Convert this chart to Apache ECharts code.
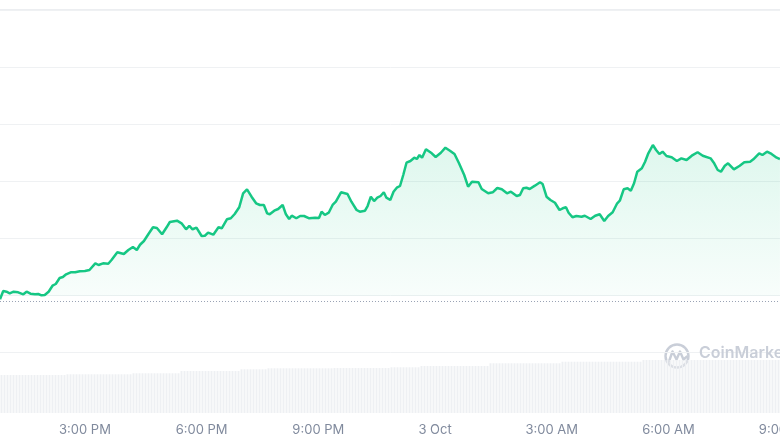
<!DOCTYPE html>
<html>
<head>
<meta charset="utf-8">
<script src="https://cdn.jsdelivr.net/npm/echarts@6/dist/echarts.min.js"></script>
<style>
html,body{margin:0;padding:0;background:#fff;}
#chart{width:780px;height:437px;}
</style>
</head>
<body>
<div id="chart"></div>
<script>
// minutes since 12:00 PM, 2 Oct
const times = [49,54,59,64,70,77,85,90,96,103,108,113,118,124,130,135,141,146,151,158,165,172,180,187,196,201,208,216,221,230,240,247,254,260,265,271,278,285,291,299,306,311,322,329,336,341,346,352,360,365,370,378,386,391,399,405,411,418,424,430,437,444,450,
456,461,465,472,478,485,490,495,499,506,512,518,526,535,541,545,550,556,562,567,575,585,591,599,604,612,616,621,626,631,636,641,645,651,656,661,666,671,676,682,688,692,696,700,706,715,721,729,736,743,750,757,765,771,777,787,792,802,809,816,823,831,837,846,851,
856,861,866,874,882,886,892,898,905,912,917,922,926,932,938,946,951,960,967,974,981,987,994,1001,1005,1011,1017,1022,1027,1032,1039,1044,1049,1056,1061,1066,1071,1077,1085,1093,1100,1108,1116,1125,1133,1145,1150,1156,1161,1167,1172,1181,1190,1197,1206,1211,1220,1225,1232,1239,1247,1252];
const prices = [9.25,10.70,10.58,10.30,10.58,10.47,10.12,10.58,10.23,10.12,10.18,9.95,10.0,10.58,11.63,11.93,12.98,13.16,13.63,13.98,13.98,14.16,14.21,14.39,15.56,15.26,15.56,15.49,16.14,17.49,17.19,17.89,18.42,17.89,18.82,19.47,20.70,21.88,21.75,20.65,21.88,22.81,23.04,22.58,21.53,22.11,21.53,21.81,20.35,20.40,20.93,20.58,21.88,21.70,23.28,23.46,24.21,25.39,27.84,28.54,27.25,26.09,25.79,
25.79,24.33,24.16,24.79,25.09,25.79,24.16,23.33,23.91,23.46,23.86,23.86,23.46,23.56,23.51,24.61,24.04,24.44,25.79,26.37,28.02,27.72,26.37,24.91,24.61,24.79,25.61,27.25,26.49,27.07,27.37,28.02,27.07,26.67,28.12,28.82,29.12,31.05,33.21,33.51,34.09,33.86,34.56,34.09,35.56,34.86,34.21,34.96,35.84,35.32,34.74,33.11,31.05,29.0,29.88,29.77,28.60,27.84,28.02,28.77,28.54,27.84,28.12,27.37,27.54,
28.72,28.82,28.60,29.18,29.77,29.47,27.25,26.67,26.19,24.91,25.21,25.39,24.44,23.63,23.86,23.74,23.91,23.33,23.91,24.16,22.98,23.86,24.51,26.09,26.54,28.54,28.72,28.30,29.60,31.63,32.23,33.39,34.86,36.32,35.44,34.74,35.14,34.39,34.16,33.51,33.98,33.68,34.44,35.04,34.44,33.98,33.21,31.93,31.63,32.68,33.11,32.05,32.68,33.28,33.39,33.81,34.86,34.56,35.14,34.74,34.09,33.86];
const openPrice = 8.95;
// volume as runs: [number of bars, value]
const volumeRuns = [[22,38],[22,38.7],[16,39.7],[20,42],[9,43.7],[22,44.7],[19,45],[10,45.7],[23,47],[24,49.7],[27,51.3],[46,53]];
const tickValues = [180,360,540,720,900,1080,1260];
const tickLabels = ['3:00 PM','6:00 PM','9:00 PM','3 Oct','3:00 AM','6:00 AM','9:00 AM'];

const volume = [];
volumeRuns.forEach(([n, v]) => { for (let i = 0; i < n; i++) volume.push(v); });
const volIdx = volume.map((_, i) => i);
const lineData = times.map((t, i) => [t, prices[i]]);

const chart = echarts.init(document.getElementById('chart'), null, {renderer: 'canvas'});
chart.setOption({
  animation: false,
  backgroundColor: '#ffffff',
  grid: [
    {left: 0, top: 10, width: 792, height: 342, containLabel: false, outerBoundsMode: 'none'},
    {left: 0, top: 352, width: 780, height: 61, containLabel: false, outerBoundsMode: 'none'}
  ],
  xAxis: [
    {
      type: 'value', gridIndex: 0, min: 49, max: 1270.6,
      axisLine: {show: false}, axisTick: {show: false}, splitLine: {show: false},
      axisLabel: {
        show: true, margin: 72, color: '#808a9d', fontSize: 13, fontFamily: 'Inter',
        customValues: tickValues,
        formatter: (v) => { const i = tickValues.indexOf(v); return i >= 0 ? tickLabels[i] : ''; }
      }
    },
    {
      type: 'category', gridIndex: 1, data: volIdx, boundaryGap: true,
      axisLine: {show: false}, axisTick: {show: false}, axisLabel: {show: false}, splitLine: {show: false}
    }
  ],
  yAxis: [
    {
      type: 'value', gridIndex: 0, min: 0, max: 60, interval: 10,
      axisLine: {show: false}, axisTick: {show: false}, axisLabel: {show: false},
      splitLine: {show: true, lineStyle: {color: '#eff1f3', width: 1}}
    },
    {
      type: 'value', gridIndex: 1, min: 0, max: 61,
      axisLine: {show: false}, axisTick: {show: false}, axisLabel: {show: false}, splitLine: {show: false}
    }
  ],
  series: [
    {
      type: 'bar', xAxisIndex: 1, yAxisIndex: 1, data: volume,
      barWidth: 2, itemStyle: {color: '#eef0f3'}, silent: true, z: 1
    },
    {
      type: 'line', xAxisIndex: 0, yAxisIndex: 0, data: lineData,
      showSymbol: false, smooth: false, z: 3,
      lineStyle: {color: '#16c784', width: 2.5},
      areaStyle: {
        origin: 9.82,
        color: new echarts.graphic.LinearGradient(0, 0, 0, 1, [
          {offset: 0, color: 'rgba(22,199,132,0.20)'},
          {offset: 1, color: 'rgba(22,199,132,0.04)'}
        ])
      },
      markLine: {
        silent: true, symbol: 'none', label: {show: false},
        lineStyle: {color: '#9aa3b5', type: [1, 2], width: 1},
        data: [{yAxis: openPrice}]
      }
    }
  ],
  graphic: [
    {type: 'rect', left: 0, top: 9, shape: {width: 780, height: 2}, style: {fill: '#eceef1'}, z: 0, silent: true},
    {type: 'group', left: 663, top: 342, z: 10, silent: true, children: [
      {type: 'circle', shape: {cx: 13, cy: 12.5, r: 11.5}, style: {fill: 'none', stroke: '#c9ced8', lineWidth: 2.4}},
      {type: 'polyline', shape: {points: [[5,18],[8.5,8],[12.5,16],[16,8],[19.5,16],[23,13]]}, style: {fill: 'none', stroke: '#c9ced8', lineWidth: 2.4, lineJoin: 'round', lineCap: 'round'}}
    ]},
    {type: 'text', left: 699, top: 345, z: 10, silent: true,
      style: {text: 'CoinMarketCap', fill: '#c9ced8', font: '600 16px Inter'}}
  ]
});
</script>
</body>
</html>
